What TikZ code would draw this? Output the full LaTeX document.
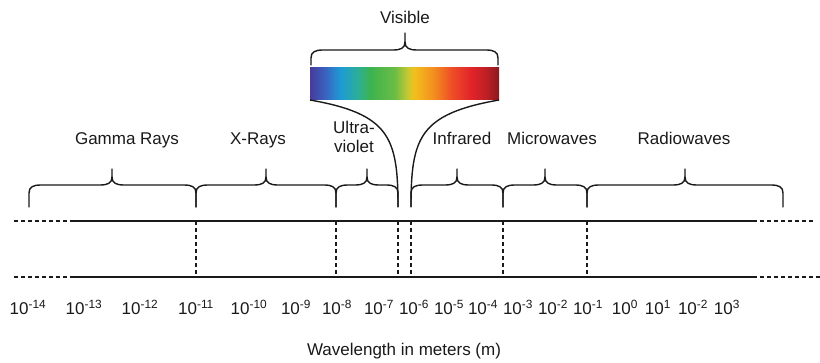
\documentclass[tikz,border=0pt]{standalone}
\usepackage{fontspec}
\setmainfont{Liberation Sans}
\definecolor{ink}{HTML}{1A1A1A}
\definecolor{spA}{HTML}{483A9A}
\definecolor{spB}{HTML}{3A62C0}
\definecolor{spC}{HTML}{1E9AD6}
\definecolor{spD}{HTML}{2BAE9A}
\definecolor{spE}{HTML}{3CB34F}
\definecolor{spF}{HTML}{6CBC45}
\definecolor{spG}{HTML}{C9C931}
\definecolor{spH}{HTML}{F2C01C}
\definecolor{spI}{HTML}{F3901F}
\definecolor{spJ}{HTML}{EE4E26}
\definecolor{spK}{HTML}{E2242A}
\definecolor{spL}{HTML}{C01F25}
\definecolor{spM}{HTML}{8A1A1E}
\pgfdeclarehorizontalshading{spectrum}{100bp}{color(0bp)=(spA); color(25bp)=(spA); color(29bp)=(spB); color(33bp)=(spC); color(37.5bp)=(spD); color(41bp)=(spE); color(47.5bp)=(spF); color(51bp)=(spG); color(52.5bp)=(spH); color(57.5bp)=(spI); color(62.5bp)=(spJ); color(67.5bp)=(spK); color(71.5bp)=(spL); color(75bp)=(spM); color(100bp)=(spM)}
\newcommand\pw[1]{10\textsuperscript{#1}}
% brace: x1, x2, xm, ybot, yh, ytip
\newcommand\specbrace[6]{%
  \draw[bracestyle] (#1,#4) -- (#1,#5+8) .. controls (#1,#5+2) and (#1+4,#5) .. (#1+12,#5)
     -- (#3-12,#5) .. controls (#3-4,#5) and (#3,#5-2) .. (#3,#5-8) -- (#3,#6);
  \draw[bracestyle] (#2,#4) -- (#2,#5+8) .. controls (#2,#5+2) and (#2-4,#5) .. (#2-12,#5)
     -- (#3+12,#5) .. controls (#3+4,#5) and (#3,#5-2) .. (#3,#5-8);
}
\begin{document}
\begin{tikzpicture}[x=1pt,y=-1pt,
  every node/.style={text=ink,font=\fontsize{17}{19}\selectfont,inner sep=0pt},
  axisline/.style={draw=ink,line width=1.2pt},
  enddash/.style={draw=ink,line width=1.2pt,dash pattern=on 4pt off 3pt},
  gridline/.style={draw=ink,line width=1.2pt,dash pattern=on 4pt off 3pt},
  bracestyle/.style={draw=ink,line width=1.4pt,line cap=round},
  funnel/.style={draw=ink,line width=1.4pt}]
\useasboundingbox[fill=white] (0,0) rectangle (820,363);

% axis lines
\coordinate (uL) at (14,221); \coordinate (uA) at (72,221);
\coordinate (uB) at (753,221); \coordinate (uR) at (813,221);
\coordinate (lL) at (14,277); \coordinate (lA) at (72,277);
\coordinate (lB) at (753,277); \coordinate (lR) at (820,277);
\draw[enddash] (uL) -- (uA);
\draw[axisline] (uA) -- (uB);
\draw[enddash] (uB) -- (uR);
\draw[enddash] (lL) -- (lA);
\draw[axisline] (lA) -- (lB);
\draw[enddash] (lB) -- (lR);

% vertical dashed dividers
\foreach \x in {196,336,398,411,503,587}
  \draw[gridline] (\x,221) -- (\x,277);

% braces
\specbrace{29}{196}{112}{207}{185}{169}
\specbrace{196}{336}{266}{207}{185}{169}
\specbrace{336}{398}{367}{207}{185}{169}
\specbrace{411}{503}{457}{207}{185}{169}
\specbrace{503}{587}{545}{207}{185}{169}
\specbrace{587}{783}{685}{207}{185}{169}
\specbrace{311}{498}{405}{65}{50}{33}

% spectrum
\shade[shading=spectrum] (310,68) rectangle (499,100);
\coordinate (sL) at (310,100); \coordinate (sR) at (499,100);
\coordinate (fL) at (398,207); \coordinate (fR) at (411,207);
\draw[funnel] (sL) .. controls (390,114) and (398,138) .. (fL);
\draw[funnel] (sR) .. controls (419,114) and (411,138) .. (fR);

% labels
\node[anchor=base] (vis) at (405,24) {Visible};
\node[anchor=base] (gamma) at (127,145) {Gamma Rays};
\node[anchor=base] (xray) at (258,145) {X-Rays};
\node[anchor=base west] (uv1) at (333,134) {Ultra-};
\node[anchor=base west] (uv2) at (334,153) {violet};
\node[anchor=base] (ir) at (462,145) {Infrared};
\node[anchor=base] (mw) at (552,145) {Microwaves};
\node[anchor=base] (rw) at (684,145) {Radiowaves};

% tick labels
\node[anchor=base] (t1) at (28,315) {\pw{-14}};
\node[anchor=base] (t2) at (84,315) {\pw{-13}};
\node[anchor=base] (t3) at (140,315) {\pw{-12}};
\node[anchor=base] (t4) at (196,315) {\pw{-11}};
\node[anchor=base] (t5) at (249,315) {\pw{-10}};
\node[anchor=base] (t6) at (296,315) {\pw{-9}};
\node[anchor=base] (t7) at (337,315) {\pw{-8}};
\node[anchor=base] (t8) at (379,315) {\pw{-7}};
\node[anchor=base] (t9) at (414,315) {\pw{-6}};
\node[anchor=base] (t10) at (449,315) {\pw{-5}};
\node[anchor=base] (t11) at (483,315) {\pw{-4}};
\node[anchor=base] (t12) at (518,315) {\pw{-3}};
\node[anchor=base] (t13) at (553,315) {\pw{-2}};
\node[anchor=base] (t14) at (588,315) {\pw{-1}};
\node[anchor=base] (t15) at (625,315) {\pw{0}};
\node[anchor=base] (t16) at (658,315) {\pw{1}};
\node[anchor=base] (t17) at (693,315) {\pw{-2}};
\node[anchor=base] (t18) at (727,315) {\pw{3}};

\node[anchor=base] (wl) at (404,356) {Wavelength in meters (m)};
\end{tikzpicture}
\end{document}
